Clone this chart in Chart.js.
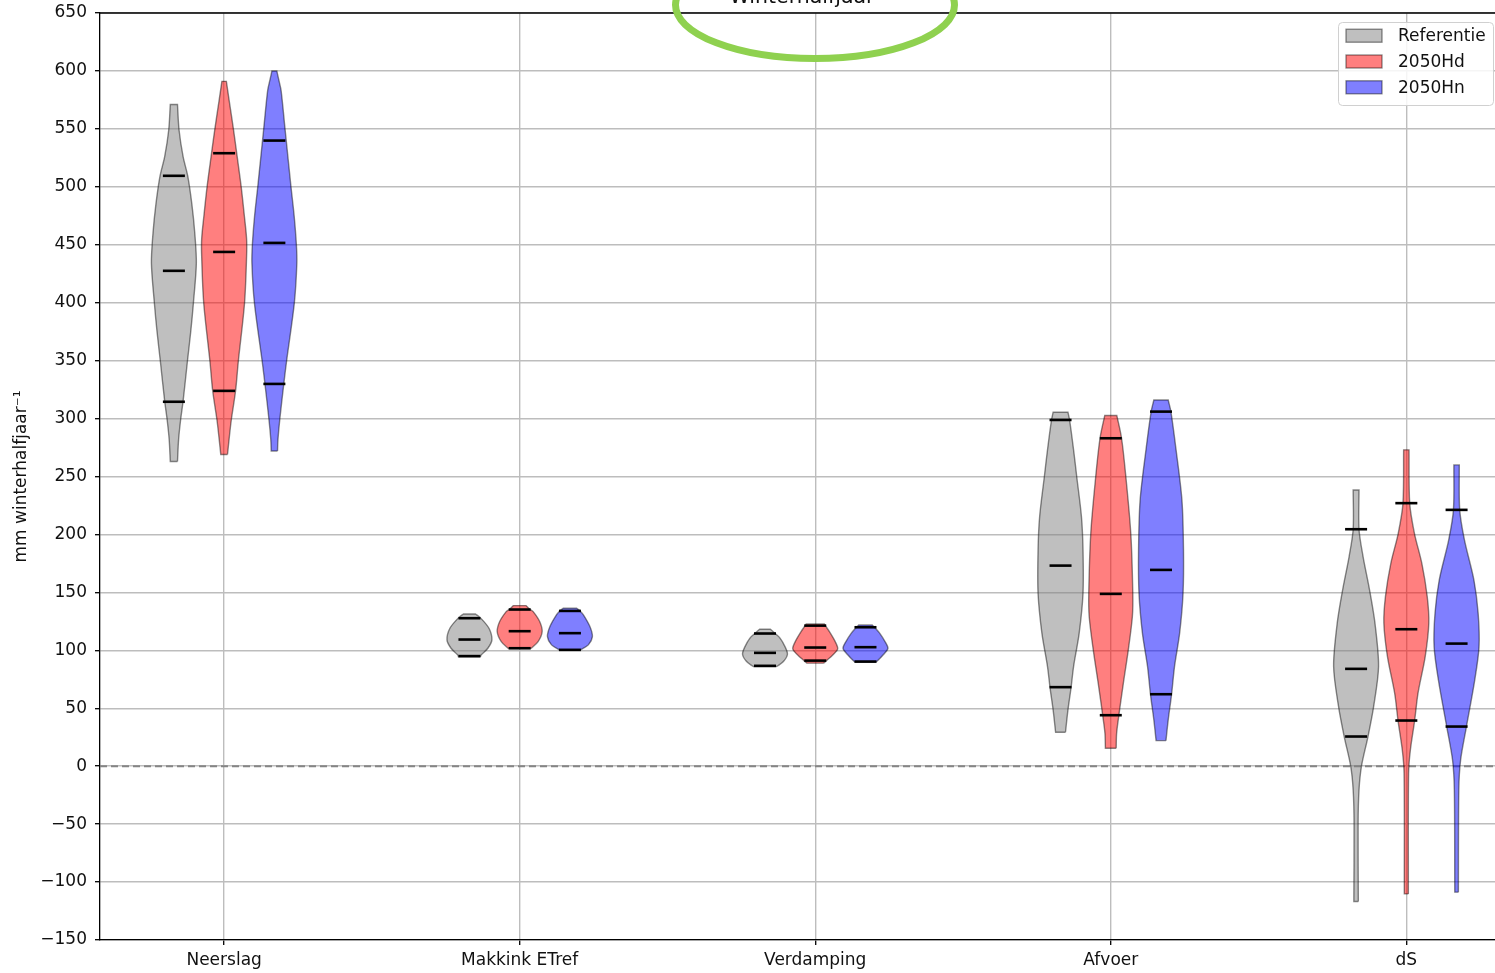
<!DOCTYPE html>
<html lang="nl">
<head>
<meta charset="utf-8">
<title>Winterhalfjaar</title>
<script src="https://cdn.jsdelivr.net/npm/chart.js@4.4.1/dist/chart.umd.min.js"></script>
<style>
  html, body { margin: 0; padding: 0; background: #fff; overflow: hidden; }
  #wrap { position: relative; width: 1495px; height: 973px; }
</style>
</head>
<body>
<div id="wrap"><canvas id="violins" width="1495" height="973"></canvas></div>
<script>
// Waterbalans winterhalfjaar: violins per post, drie scenario's naast elkaar.
// - violin body = scatter-lijn (omtrek) + eigen fill-plugin (Chart.js heeft geen violin type)
// - kwantiel-streepjes = scatter punten met pointStyle 'line'
// - titel / legenda / bovenrand worden in afterDraw getekend

const CATEGORIES = ["Neerslag", "Makkink ETref", "Verdamping", "Afvoer", "dS"];
const SERIES = ["Referentie", "2050Hd", "2050Hn"];
const Y_TICKS = [-150, -100, -50, 0, 50, 100, 150, 200, 250, 300, 350, 400, 450, 500, 550, 600, 650];

// dichtheidsprofiel per post: [waarde, relatieve halve breedte], van onder naar boven
const REF_PROFILE = [
  [[263, 0.16], [282, 0.21], [299, 0.30], [315, 0.41], [349, 0.60], [375, 0.75], [400, 0.87], [434, 1.0], [460, 0.93], [485, 0.80], [509, 0.62], [526, 0.41], [549, 0.23], [571, 0.16]],
  [[94.5, 0.49], [96, 0.52], [101.8, 0.82], [109, 1.0], [119, 0.87], [128, 0.49], [131.4, 0.27]],
  [[86, 0.52], [90.3, 0.82], [96.6, 1.0], [103.2, 0.89], [110.5, 0.67], [114.5, 0.45], [118.2, 0.24]],
  [[29.3, 0.22], [48.6, 0.33], [68, 0.47], [86, 0.58], [114.8, 0.83], [149, 1.0], [186.7, 1.0], [215.4, 0.93], [250, 0.72], [273, 0.58], [299, 0.40], [305.5, 0.33]],
  [[-116.8, 0.10], [-49.2, 0.09], [-20.5, 0.13], [0, 0.24], [25.6, 0.53], [51.4, 0.78], [86, 1.0], [123.4, 0.84], [152, 0.60], [180.9, 0.31], [204.5, 0.13], [238.4, 0.13]],
];
const HD_PROFILE = [
  [[269, 0.15], [282, 0.22], [299, 0.32], [324, 0.51], [349, 0.63], [400, 0.91], [440, 1.0], [455, 1.0], [475, 0.90], [500, 0.76], [529, 0.56], [549, 0.42], [575, 0.22], [591, 0.10]],
  [[101.5, 0.50], [107.5, 0.82], [116, 1.0], [124.8, 0.89], [133.4, 0.60], [135.5, 0.45], [138.6, 0.28]],
  [[88.9, 0.37], [91.1, 0.50], [96, 0.78], [101.2, 1.0], [107.5, 0.89], [116.2, 0.63], [121.3, 0.45], [122.8, 0.40]],
  [[15.5, 0.24], [28.5, 0.26], [44, 0.36], [71.6, 0.56], [100.4, 0.78], [129, 0.96], [149, 0.98], [201, 0.89], [250, 0.67], [283, 0.48], [302.6, 0.27]],
  [[-110.2, 0.09], [-6, 0.10], [14, 0.18], [39.4, 0.37], [63, 0.52], [94.6, 0.84], [123.4, 1.0], [146.4, 0.93], [175, 0.69], [201, 0.36], [227, 0.15], [273, 0.12]],
];
const HN_PROFILE = [
  [[272, 0.14], [282, 0.16], [299, 0.24], [330, 0.42], [349, 0.54], [400, 0.89], [434, 1.0], [450, 0.98], [475, 0.88], [500, 0.74], [549, 0.48], [583, 0.30], [592, 0.20], [600, 0.11]],
  [[100, 0.44], [104.7, 0.82], [111.8, 1.0], [120.5, 0.89], [130.6, 0.60], [134, 0.45], [136.3, 0.30]],
  [[89.6, 0.44], [90.3, 0.50], [96, 0.78], [101.6, 1.0], [107.5, 0.87], [114.8, 0.63], [119.9, 0.40], [121.9, 0.30]],
  [[22.1, 0.22], [40, 0.32], [62, 0.47], [86, 0.60], [115, 0.83], [149, 0.98], [186.7, 1.0], [229.8, 0.93], [273, 0.67], [306, 0.44], [316, 0.32]],
  [[-108.7, 0.08], [-20, 0.10], [5.4, 0.18], [34.2, 0.44], [74.5, 0.81], [103.2, 1.0], [132, 0.96], [160.8, 0.77], [195.3, 0.35], [221.2, 0.14], [260, 0.12]],
];

// streepjes: [laag, midden, hoog] per post
const REF_LINES = [[314.5, 427.5, 509.5], [95, 109.3, 127.7], [86.6, 97.8, 114.5], [68.2, 173.1, 298.8], [25.6, 84, 204.5]];
const HD_LINES  = [[323.9, 443.8, 529], [101.8, 116.5, 135.2], [91.1, 102.4, 121.3], [44, 148.7, 283], [39.4, 118.2, 227]];
const HN_LINES  = [[329.9, 451.6, 539.9], [100.4, 114.8, 134], [90.3, 102.7, 119.9], [62.1, 169.4, 306], [34.2, 105.8, 221.2]];

const PROFILES = [REF_PROFILE, HD_PROFILE, HN_PROFILE];
const LINES = [REF_LINES, HD_LINES, HN_LINES];

const SERIES_FILL = ["rgba(128,128,128,0.5)", "rgba(255,0,0,0.5)", "rgba(0,0,255,0.5)"];
const SERIES_EDGE = "rgba(0,0,0,0.45)";

const FONT = '"DejaVu Sans", sans-serif';
const TEXT = "#111";
const GRID = "#bdbdbd";

const X_MIN = -0.42;
const X_MAX = 4.30;
const OFFSET = 0.17;      // afstand scenario t.o.v. het midden van de post
const HALF_WIDTH = 0.076; // max halve breedte van een violin (x-eenheden)

// omtrek: rechts omhoog, links omlaag. Hoekpunten dubbel zodat de bezier
// bij de afgekapte uiteinden niet doorschiet (vlakke kapjes blijven vlak).
function outline(center, profile) {
  const right = profile.map(([v, w]) => ({ x: center + w * HALF_WIDTH, y: v }));
  const left = profile.slice().reverse().map(([v, w]) => ({ x: center - w * HALF_WIDTH, y: v }));
  const rTop = right[right.length - 1];
  const lBot = left[left.length - 1];
  return [right[0], ...right, rTop, left[0], ...left, lBot, right[0], right[0]];
}

function buildDatasets() {
  const out = [];

  SERIES.forEach((name, s) => {
    const off = (s - 1) * OFFSET;

    out.push({
      label: name + " kwantielen",
      order: 0,
      showLine: false,
      data: LINES[s].flatMap((vals, c) => vals.map((v) => ({ x: c + off, y: v }))),
      pointStyle: "line",
      pointRadius: 11,
      pointHoverRadius: 11,
      pointBorderWidth: 2.6,
      pointBorderColor: "#000",
      borderColor: "#000",
    });

    PROFILES[s].forEach((prof, c) => {
      out.push({
        label: name,
        order: 1,
        showLine: true,
        data: outline(c + off, prof),
        borderColor: SERIES_EDGE,
        borderWidth: 1.4,
        pointRadius: 0,
        tension: 0.3,
        fill: false,
        violinFill: SERIES_FILL[s],
      });
    });
  });

  // stippellijn op nul
  out.push({
    label: "nul",
    order: 2,
    showLine: true,
    data: [{ x: X_MIN, y: 0 }, { x: X_MAX, y: 0 }],
    borderColor: "#858585",
    borderWidth: 2,
    borderDash: [7, 4],
    pointRadius: 0,
    fill: false,
  });

  return out;
}

// violin vlakken vullen onder de omtreklijn (zelfde bezier-pad als de lijn)
const violinFill = {
  id: "violinFill",
  beforeDatasetDraw(chart, args) {
    const ds = chart.data.datasets[args.index];
    if (!ds.violinFill) return;
    const { ctx, chartArea } = chart;
    const line = args.meta.dataset;
    const pts = args.meta.data;
    if (!pts.length) return;

    ctx.save();
    ctx.beginPath();
    ctx.rect(chartArea.left, chartArea.top, chartArea.right - chartArea.left, chartArea.bottom - chartArea.top);
    ctx.clip();
    ctx.beginPath();
    if (line && typeof line.path === "function") {
      if (typeof line.updateControlPoints === "function") line.updateControlPoints(chartArea, "x");
      line.path(ctx);
    } else {
      pts.forEach((p, i) => (i === 0 ? ctx.moveTo(p.x, p.y) : ctx.lineTo(p.x, p.y)));
    }
    ctx.closePath();
    ctx.fillStyle = ds.violinFill;
    ctx.fill();
    ctx.restore();
  },
};

// titel, markering, legenda en bovenrand
const decorations = {
  id: "decorations",
  afterDraw(chart) {
    const { ctx, chartArea } = chart;

    ctx.save();

    // bovenrand van de assen
    ctx.strokeStyle = "#000";
    ctx.lineWidth = 1.3;
    ctx.beginPath();
    ctx.moveTo(chartArea.left, chartArea.top);
    ctx.lineTo(chartArea.right, chartArea.top);
    ctx.stroke();

    // titel (valt grotendeels buiten beeld)
    ctx.fillStyle = TEXT;
    ctx.font = `20.5px ${FONT}`;
    ctx.textAlign = "center";
    ctx.textBaseline = "alphabetic";
    ctx.fillText("Winterhalfjaar", chartArea.left + 702, 3);

    // groene markering rond de titel
    ctx.strokeStyle = "#8fd14f";
    ctx.lineWidth = 7;
    ctx.beginPath();
    ctx.ellipse(815, 5, 139.5, 53.5, 0, 0, Math.PI * 2);
    ctx.stroke();

    // legenda rechtsboven in het plotvlak
    const lx = chartArea.right - 157, ly = chartArea.top + 9, lw = 155, lh = 83;
    ctx.fillStyle = "rgba(255,255,255,0.85)";
    ctx.strokeStyle = "#d0d0d0";
    ctx.lineWidth = 1;
    ctx.beginPath();
    ctx.roundRect(lx + 0.5, ly + 0.5, lw, lh, 4);
    ctx.fill();
    ctx.stroke();

    ctx.font = `17px ${FONT}`;
    ctx.textAlign = "left";
    ctx.textBaseline = "middle";
    SERIES.forEach((name, i) => {
      const cy = ly + 13.7 + i * 25.8;
      ctx.fillStyle = "#fff";
      ctx.fillRect(lx + 8, cy - 6.5, 36, 13);
      ctx.fillStyle = SERIES_FILL[i];
      ctx.fillRect(lx + 8, cy - 6.5, 36, 13);
      ctx.strokeStyle = SERIES_EDGE;
      ctx.lineWidth = 1.3;
      ctx.strokeRect(lx + 8, cy - 6.5, 36, 13);
      ctx.fillStyle = TEXT;
      ctx.fillText(name, lx + 60, cy + 1);
    });

    ctx.restore();
  },
};

const tickFont = { family: FONT, size: 17 };

// schaalpadding (half labelformaat) niet meetellen: plotvlak ligt vast
function noScalePadding(s) {
  s.paddingLeft = 0;
  s.paddingRight = 0;
  s.paddingTop = 0;
  s.paddingBottom = 0;
}

new Chart(document.getElementById("violins"), {
  type: "scatter",
  data: { datasets: buildDatasets() },
  plugins: [violinFill, decorations],
  options: {
    responsive: false,
    animation: false,
    devicePixelRatio: 1,
    events: [],
    layout: { autoPadding: false, padding: { left: 0, right: 0, top: 13, bottom: 0 } },
    plugins: {
      legend: { display: false },
      title: { display: false },
      tooltip: { enabled: false },
    },
    scales: {
      x: {
        type: "linear",
        min: X_MIN,
        max: X_MAX,
        afterBuildTicks: (s) => { s.ticks = CATEGORIES.map((_, i) => ({ value: i })); },
        afterFit: (s) => { s.height = 33; noScalePadding(s); },
        ticks: {
          callback: (v) => CATEGORIES[v] ?? "",
          font: tickFont,
          color: TEXT,
          padding: 5,
          autoSkip: false,
          maxRotation: 0,
        },
        grid: { color: GRID, lineWidth: 1.4, tickLength: 5, tickColor: "#000", tickWidth: 1.3 },
        border: { color: "#000", width: 1.3 },
      },
      y: {
        type: "linear",
        min: -150,
        max: 650,
        afterBuildTicks: (s) => { s.ticks = Y_TICKS.map((v) => ({ value: v })); },
        afterFit: (s) => { s.width = 100; noScalePadding(s); },
        ticks: {
          callback: (v) => String(v).replace("-", "\u2212"),
          font: tickFont,
          color: TEXT,
          padding: 8,
        },
        grid: { color: GRID, lineWidth: 1.4, tickLength: 5, tickColor: "#000", tickWidth: 1.3 },
        border: { color: "#000", width: 1.3 },
        title: {
          display: true,
          text: "mm winterhalfjaar\u207B\u00B9",
          font: { family: FONT, size: 17 },
          color: TEXT,
          padding: { top: 11, bottom: 0 },
        },
      },
    },
  },
});
</script>
</body>
</html>
